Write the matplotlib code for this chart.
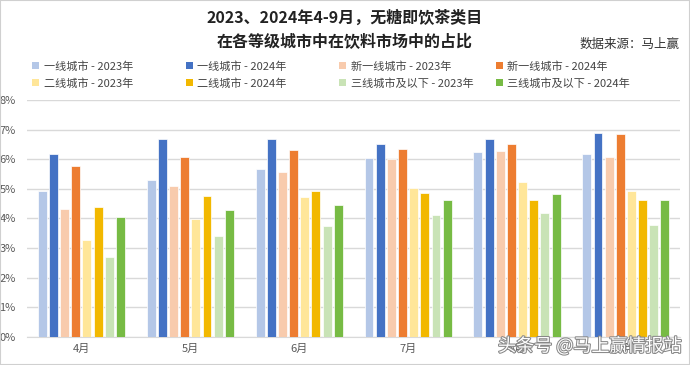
import numpy as np
import matplotlib.pyplot as plt
import matplotlib.patheffects as pe
from matplotlib.patches import Patch

plt.rcParams['font.family'] = ['Noto Sans CJK SC', 'DejaVu Sans']

months = ["4月", "5月", "6月", "7月", "8月", "9月"]
series_names = [
    "一线城市 - 2023年", "一线城市 - 2024年",
    "新一线城市 - 2023年", "新一线城市 - 2024年",
    "二线城市 - 2023年", "二线城市 - 2024年",
    "三线城市及以下 - 2023年", "三线城市及以下 - 2024年",
]

# share of beverage market, percent
tier1_2023 = [4.92, 5.29, 5.68, 6.05, 6.25, 6.19]
tier1_2024 = [6.19, 6.70, 6.70, 6.50, 6.70, 6.87]
newtier1_2023 = [4.31, 5.08, 5.56, 6.00, 6.28, 6.07]
newtier1_2024 = [5.77, 6.07, 6.31, 6.33, 6.53, 6.85]
tier2_2023 = [3.28, 3.97, 4.73, 5.02, 5.24, 4.92]
tier2_2024 = [4.39, 4.77, 4.92, 4.85, 4.62, 4.64]
tier3_2023 = [2.70, 3.42, 3.74, 4.12, 4.18, 3.78]
tier3_2024 = [4.04, 4.29, 4.46, 4.64, 4.81, 4.64]

series = [tier1_2023, tier1_2024, newtier1_2023, newtier1_2024,
          tier2_2023, tier2_2024, tier3_2023, tier3_2024]
colors = ["#B4C7E7", "#4472C4", "#F8CBAD", "#ED7D31",
          "#FFE699", "#F2B800", "#C9E3B6", "#77BB44"]

fig = plt.figure(figsize=(6.9, 3.65), dpi=100)
ax = fig.add_axes([0.039, 0.077, 0.947, 0.649])

x = np.arange(len(months))
slot = 0.82 / len(series)
for i, (vals, c) in enumerate(zip(series, colors)):
    offs = (i - (len(series) - 1) / 2) * slot
    ax.bar(x + offs, np.array(vals) / 100, width=slot * 0.8, color=c,
           edgecolor="white", linewidth=0.5, zorder=3)

ax.set_ylim(0, 0.08)
ax.set_xlim(-0.5, len(months) - 0.5)
ax.set_yticks(np.arange(0, 0.081, 0.01))
ax.set_yticklabels([f"{int(v)}%" for v in range(9)])
ax.set_xticks(x)
ax.set_xticklabels(months)
ax.tick_params(axis="both", length=0, labelsize=8, colors="#595959")
ax.tick_params(axis="y", pad=8)
ax.tick_params(axis="x", pad=5)
ax.grid(axis="y", color="#D9D9D9", linewidth=1, zorder=0)
for s in ["top", "right", "left"]:
    ax.spines[s].set_visible(False)
ax.spines["bottom"].set_color("#D9D9D9")

fig.text(0.5, 0.953, "2023、2024年4-9月，无糖即饮茶类目", ha="center", va="center",
         fontsize=11.5, fontweight="bold", color="#222222")
fig.text(0.5, 0.885, "在各等级城市中在饮料市场中的占比", ha="center", va="center",
         fontsize=11.5, fontweight="bold", color="#222222")
fig.text(0.985, 0.878, "数据来源：马上赢", ha="right", va="center",
         fontsize=9, color="#333333")

# legend: four evenly spaced columns, two rows each
handles = [Patch(facecolor=c, label=n) for c, n in zip(colors, series_names)]
col_x = [0.047, 0.270, 0.492, 0.719]
for j, cx in enumerate(col_x):
    pair = [handles[j], handles[j + 4]]
    fig.legend(pair, [h.get_label() for h in pair], loc="upper left",
               bbox_to_anchor=(cx, 0.833), frameon=False, fontsize=8,
               handlelength=0.6, handleheight=0.6, handletextpad=0.4,
               labelspacing=0.55, borderpad=0, borderaxespad=0,
               labelcolor="#444444")

fig.text(0.987, 0.052, "头条号 @马上赢情报站", ha="right", va="center", fontsize=13,
         color="white", fontstyle="italic",
         path_effects=[pe.withStroke(linewidth=1.5, foreground="#888888")])

fig.patches.append(plt.Rectangle((0, 0), 1, 1, transform=fig.transFigure,
                                 fill=False, edgecolor="#D0D0D0", linewidth=1.5))

fig.savefig("out.png", dpi=100)
